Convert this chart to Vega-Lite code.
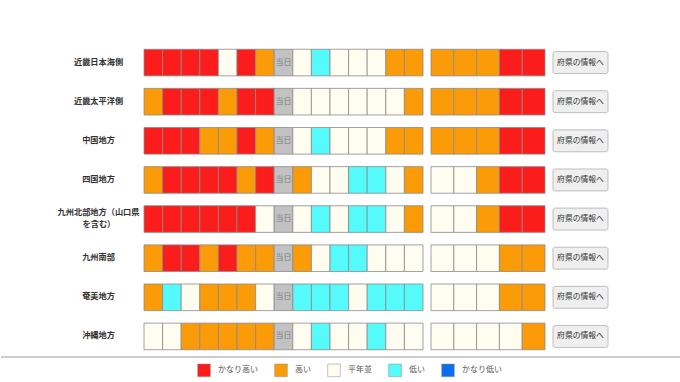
{
  "$schema": "https://vega.github.io/schema/vega-lite/v6.json",
  "padding": {"left": 0, "top": 43, "right": 0, "bottom": 0},
  "background": "white",
  "config": {
    "font": "Noto Sans CJK JP",
    "view": {"stroke": null},
    "concat": {"spacing": 8}
  },
  "datasets": {
    "regions": [
      {"region": "近畿日本海側"},
      {"region": "近畿太平洋側"},
      {"region": "中国地方"},
      {"region": "四国地方"},
      {"region": "九州北部地方（山口県を含む）"},
      {"region": "九州南部"},
      {"region": "奄美地方"},
      {"region": "沖縄地方"}
    ],
    "labels": [
      {"region": "近畿日本海側", "line": "single", "text": "近畿日本海側"},
      {"region": "近畿太平洋側", "line": "single", "text": "近畿太平洋側"},
      {"region": "中国地方", "line": "single", "text": "中国地方"},
      {"region": "四国地方", "line": "single", "text": "四国地方"},
      {"region": "九州北部地方（山口県を含む）", "line": "upper", "text": "九州北部地方（山口県"},
      {"region": "九州北部地方（山口県を含む）", "line": "lower", "text": "を含む）"},
      {"region": "九州南部", "line": "single", "text": "九州南部"},
      {"region": "奄美地方", "line": "single", "text": "奄美地方"},
      {"region": "沖縄地方", "line": "single", "text": "沖縄地方"}
    ],
    "daily": [
      {"region": "近畿日本海側", "day": 1, "level": "かなり高い"},
      {"region": "近畿日本海側", "day": 2, "level": "かなり高い"},
      {"region": "近畿日本海側", "day": 3, "level": "かなり高い"},
      {"region": "近畿日本海側", "day": 4, "level": "かなり高い"},
      {"region": "近畿日本海側", "day": 5, "level": "平年並"},
      {"region": "近畿日本海側", "day": 6, "level": "かなり高い"},
      {"region": "近畿日本海側", "day": 7, "level": "高い"},
      {"region": "近畿日本海側", "day": 8, "level": "当日"},
      {"region": "近畿日本海側", "day": 9, "level": "平年並"},
      {"region": "近畿日本海側", "day": 10, "level": "低い"},
      {"region": "近畿日本海側", "day": 11, "level": "平年並"},
      {"region": "近畿日本海側", "day": 12, "level": "平年並"},
      {"region": "近畿日本海側", "day": 13, "level": "平年並"},
      {"region": "近畿日本海側", "day": 14, "level": "高い"},
      {"region": "近畿日本海側", "day": 15, "level": "高い"},

      {"region": "近畿太平洋側", "day": 1, "level": "高い"},
      {"region": "近畿太平洋側", "day": 2, "level": "かなり高い"},
      {"region": "近畿太平洋側", "day": 3, "level": "かなり高い"},
      {"region": "近畿太平洋側", "day": 4, "level": "かなり高い"},
      {"region": "近畿太平洋側", "day": 5, "level": "高い"},
      {"region": "近畿太平洋側", "day": 6, "level": "かなり高い"},
      {"region": "近畿太平洋側", "day": 7, "level": "かなり高い"},
      {"region": "近畿太平洋側", "day": 8, "level": "当日"},
      {"region": "近畿太平洋側", "day": 9, "level": "平年並"},
      {"region": "近畿太平洋側", "day": 10, "level": "平年並"},
      {"region": "近畿太平洋側", "day": 11, "level": "平年並"},
      {"region": "近畿太平洋側", "day": 12, "level": "平年並"},
      {"region": "近畿太平洋側", "day": 13, "level": "平年並"},
      {"region": "近畿太平洋側", "day": 14, "level": "平年並"},
      {"region": "近畿太平洋側", "day": 15, "level": "高い"},

      {"region": "中国地方", "day": 1, "level": "かなり高い"},
      {"region": "中国地方", "day": 2, "level": "かなり高い"},
      {"region": "中国地方", "day": 3, "level": "かなり高い"},
      {"region": "中国地方", "day": 4, "level": "高い"},
      {"region": "中国地方", "day": 5, "level": "高い"},
      {"region": "中国地方", "day": 6, "level": "かなり高い"},
      {"region": "中国地方", "day": 7, "level": "高い"},
      {"region": "中国地方", "day": 8, "level": "当日"},
      {"region": "中国地方", "day": 9, "level": "平年並"},
      {"region": "中国地方", "day": 10, "level": "低い"},
      {"region": "中国地方", "day": 11, "level": "平年並"},
      {"region": "中国地方", "day": 12, "level": "平年並"},
      {"region": "中国地方", "day": 13, "level": "平年並"},
      {"region": "中国地方", "day": 14, "level": "高い"},
      {"region": "中国地方", "day": 15, "level": "高い"},

      {"region": "四国地方", "day": 1, "level": "高い"},
      {"region": "四国地方", "day": 2, "level": "かなり高い"},
      {"region": "四国地方", "day": 3, "level": "かなり高い"},
      {"region": "四国地方", "day": 4, "level": "かなり高い"},
      {"region": "四国地方", "day": 5, "level": "かなり高い"},
      {"region": "四国地方", "day": 6, "level": "高い"},
      {"region": "四国地方", "day": 7, "level": "かなり高い"},
      {"region": "四国地方", "day": 8, "level": "当日"},
      {"region": "四国地方", "day": 9, "level": "高い"},
      {"region": "四国地方", "day": 10, "level": "平年並"},
      {"region": "四国地方", "day": 11, "level": "平年並"},
      {"region": "四国地方", "day": 12, "level": "低い"},
      {"region": "四国地方", "day": 13, "level": "低い"},
      {"region": "四国地方", "day": 14, "level": "平年並"},
      {"region": "四国地方", "day": 15, "level": "高い"},

      {"region": "九州北部地方（山口県を含む）", "day": 1, "level": "かなり高い"},
      {"region": "九州北部地方（山口県を含む）", "day": 2, "level": "かなり高い"},
      {"region": "九州北部地方（山口県を含む）", "day": 3, "level": "かなり高い"},
      {"region": "九州北部地方（山口県を含む）", "day": 4, "level": "かなり高い"},
      {"region": "九州北部地方（山口県を含む）", "day": 5, "level": "かなり高い"},
      {"region": "九州北部地方（山口県を含む）", "day": 6, "level": "かなり高い"},
      {"region": "九州北部地方（山口県を含む）", "day": 7, "level": "平年並"},
      {"region": "九州北部地方（山口県を含む）", "day": 8, "level": "当日"},
      {"region": "九州北部地方（山口県を含む）", "day": 9, "level": "平年並"},
      {"region": "九州北部地方（山口県を含む）", "day": 10, "level": "低い"},
      {"region": "九州北部地方（山口県を含む）", "day": 11, "level": "平年並"},
      {"region": "九州北部地方（山口県を含む）", "day": 12, "level": "低い"},
      {"region": "九州北部地方（山口県を含む）", "day": 13, "level": "低い"},
      {"region": "九州北部地方（山口県を含む）", "day": 14, "level": "平年並"},
      {"region": "九州北部地方（山口県を含む）", "day": 15, "level": "高い"},

      {"region": "九州南部", "day": 1, "level": "高い"},
      {"region": "九州南部", "day": 2, "level": "かなり高い"},
      {"region": "九州南部", "day": 3, "level": "かなり高い"},
      {"region": "九州南部", "day": 4, "level": "高い"},
      {"region": "九州南部", "day": 5, "level": "かなり高い"},
      {"region": "九州南部", "day": 6, "level": "高い"},
      {"region": "九州南部", "day": 7, "level": "高い"},
      {"region": "九州南部", "day": 8, "level": "当日"},
      {"region": "九州南部", "day": 9, "level": "高い"},
      {"region": "九州南部", "day": 10, "level": "平年並"},
      {"region": "九州南部", "day": 11, "level": "低い"},
      {"region": "九州南部", "day": 12, "level": "低い"},
      {"region": "九州南部", "day": 13, "level": "平年並"},
      {"region": "九州南部", "day": 14, "level": "平年並"},
      {"region": "九州南部", "day": 15, "level": "平年並"},

      {"region": "奄美地方", "day": 1, "level": "高い"},
      {"region": "奄美地方", "day": 2, "level": "低い"},
      {"region": "奄美地方", "day": 3, "level": "平年並"},
      {"region": "奄美地方", "day": 4, "level": "高い"},
      {"region": "奄美地方", "day": 5, "level": "高い"},
      {"region": "奄美地方", "day": 6, "level": "高い"},
      {"region": "奄美地方", "day": 7, "level": "平年並"},
      {"region": "奄美地方", "day": 8, "level": "当日"},
      {"region": "奄美地方", "day": 9, "level": "低い"},
      {"region": "奄美地方", "day": 10, "level": "低い"},
      {"region": "奄美地方", "day": 11, "level": "低い"},
      {"region": "奄美地方", "day": 12, "level": "平年並"},
      {"region": "奄美地方", "day": 13, "level": "低い"},
      {"region": "奄美地方", "day": 14, "level": "低い"},
      {"region": "奄美地方", "day": 15, "level": "低い"},

      {"region": "沖縄地方", "day": 1, "level": "平年並"},
      {"region": "沖縄地方", "day": 2, "level": "平年並"},
      {"region": "沖縄地方", "day": 3, "level": "高い"},
      {"region": "沖縄地方", "day": 4, "level": "高い"},
      {"region": "沖縄地方", "day": 5, "level": "高い"},
      {"region": "沖縄地方", "day": 6, "level": "高い"},
      {"region": "沖縄地方", "day": 7, "level": "高い"},
      {"region": "沖縄地方", "day": 8, "level": "当日"},
      {"region": "沖縄地方", "day": 9, "level": "平年並"},
      {"region": "沖縄地方", "day": 10, "level": "低い"},
      {"region": "沖縄地方", "day": 11, "level": "平年並"},
      {"region": "沖縄地方", "day": 12, "level": "平年並"},
      {"region": "沖縄地方", "day": 13, "level": "低い"},
      {"region": "沖縄地方", "day": 14, "level": "平年並"},
      {"region": "沖縄地方", "day": 15, "level": "平年並"}
    ],
    "outlook": [
      {"region": "近畿日本海側", "period": 1, "level": "高い"},
      {"region": "近畿日本海側", "period": 2, "level": "高い"},
      {"region": "近畿日本海側", "period": 3, "level": "高い"},
      {"region": "近畿日本海側", "period": 4, "level": "かなり高い"},
      {"region": "近畿日本海側", "period": 5, "level": "かなり高い"},
      {"region": "近畿太平洋側", "period": 1, "level": "高い"},
      {"region": "近畿太平洋側", "period": 2, "level": "高い"},
      {"region": "近畿太平洋側", "period": 3, "level": "高い"},
      {"region": "近畿太平洋側", "period": 4, "level": "かなり高い"},
      {"region": "近畿太平洋側", "period": 5, "level": "かなり高い"},
      {"region": "中国地方", "period": 1, "level": "高い"},
      {"region": "中国地方", "period": 2, "level": "高い"},
      {"region": "中国地方", "period": 3, "level": "高い"},
      {"region": "中国地方", "period": 4, "level": "かなり高い"},
      {"region": "中国地方", "period": 5, "level": "かなり高い"},
      {"region": "四国地方", "period": 1, "level": "平年並"},
      {"region": "四国地方", "period": 2, "level": "平年並"},
      {"region": "四国地方", "period": 3, "level": "高い"},
      {"region": "四国地方", "period": 4, "level": "かなり高い"},
      {"region": "四国地方", "period": 5, "level": "かなり高い"},
      {"region": "九州北部地方（山口県を含む）", "period": 1, "level": "平年並"},
      {"region": "九州北部地方（山口県を含む）", "period": 2, "level": "平年並"},
      {"region": "九州北部地方（山口県を含む）", "period": 3, "level": "高い"},
      {"region": "九州北部地方（山口県を含む）", "period": 4, "level": "かなり高い"},
      {"region": "九州北部地方（山口県を含む）", "period": 5, "level": "かなり高い"},
      {"region": "九州南部", "period": 1, "level": "平年並"},
      {"region": "九州南部", "period": 2, "level": "平年並"},
      {"region": "九州南部", "period": 3, "level": "平年並"},
      {"region": "九州南部", "period": 4, "level": "高い"},
      {"region": "九州南部", "period": 5, "level": "高い"},
      {"region": "奄美地方", "period": 1, "level": "平年並"},
      {"region": "奄美地方", "period": 2, "level": "平年並"},
      {"region": "奄美地方", "period": 3, "level": "平年並"},
      {"region": "奄美地方", "period": 4, "level": "高い"},
      {"region": "奄美地方", "period": 5, "level": "高い"},
      {"region": "沖縄地方", "period": 1, "level": "平年並"},
      {"region": "沖縄地方", "period": 2, "level": "平年並"},
      {"region": "沖縄地方", "period": 3, "level": "平年並"},
      {"region": "沖縄地方", "period": 4, "level": "平年並"},
      {"region": "沖縄地方", "period": 5, "level": "高い"}
    ]
  },
  "spacing": 0,
  "resolve": {"scale": {"y": "independent", "x": "independent"}},
  "vconcat": [
    {
      "spacing": 8,
      "bounds": "flush",
      "resolve": {"scale": {"y": "independent", "x": "independent"}},
      "hconcat": [
        {
          "width": 135,
          "height": 313,
          "data": {"name": "labels"},
          "encoding": {
            "y": {
              "field": "region", "type": "nominal", "axis": null,
              "scale": {
                "type": "point", "padding": 0.5,
                "domain": ["近畿日本海側", "近畿太平洋側", "中国地方", "四国地方", "九州北部地方（山口県を含む）", "九州南部", "奄美地方", "沖縄地方"]
              }
            },
            "text": {"field": "text"}
          },
          "layer": [
            {
              "transform": [{"filter": "datum.line === 'single'"}],
              "mark": {"type": "text", "align": "center", "baseline": "middle", "dx": 30, "fontWeight": "bold", "fontSize": 8.2, "color": "#333333"}
            },
            {
              "transform": [{"filter": "datum.line === 'upper'"}],
              "mark": {"type": "text", "align": "center", "baseline": "middle", "dx": 30, "dy": -6, "fontWeight": "bold", "fontSize": 8.2, "color": "#333333"}
            },
            {
              "transform": [{"filter": "datum.line === 'lower'"}],
              "mark": {"type": "text", "align": "left", "baseline": "middle", "dx": 14, "dy": 6, "fontWeight": "bold", "fontSize": 8.2, "color": "#333333"}
            }
          ]
        },
        {
          "width": 279,
          "height": 313,
          "data": {"name": "daily"},
          "encoding": {
            "x": {"field": "day", "type": "ordinal", "scale": {"paddingInner": 0, "paddingOuter": 0}, "axis": null},
            "y": {"field": "region", "type": "nominal", "sort": null, "scale": {"type": "band", "paddingInner": 0.32, "paddingOuter": 0.16}, "axis": null}
          },
          "layer": [
            {
              "mark": {"type": "rect", "stroke": "#8a8a8a", "strokeWidth": 0.8},
              "encoding": {
                "color": {
                  "field": "level", "type": "nominal",
                  "scale": {
                    "domain": ["かなり高い", "高い", "平年並", "低い", "かなり低い", "当日"],
                    "range": ["#fb1c1c", "#fb9b07", "#fffdf0", "#55fafa", "#0a6df0", "#c2c2c2"]
                  },
                  "legend": {
                    "orient": "none", "legendX": 196, "legendY": 320, "direction": "horizontal",
                    "title": null, "padding": 0,
                    "values": ["かなり高い", "高い", "平年並", "低い", "かなり低い"],
                    "symbolType": "square", "symbolSize": 160, "symbolStrokeColor": "#999999", "symbolStrokeWidth": 0.5,
                    "labelFontSize": 8, "labelColor": "#555555", "labelOffset": 7, "columnPadding": 15
                  }
                }
              }
            },
            {
              "transform": [{"filter": "datum.level === '当日'"}],
              "mark": {"type": "text", "fontSize": 8, "color": "#808080"},
              "encoding": {"text": {"field": "level"}}
            }
          ]
        },
        {
          "width": 114,
          "height": 313,
          "data": {"name": "outlook"},
          "mark": {"type": "rect", "stroke": "#8a8a8a", "strokeWidth": 0.8},
          "encoding": {
            "x": {"field": "period", "type": "ordinal", "scale": {"paddingInner": 0, "paddingOuter": 0}, "axis": null},
            "y": {"field": "region", "type": "nominal", "sort": null, "scale": {"type": "band", "paddingInner": 0.32, "paddingOuter": 0.16}, "axis": null},
            "color": {"field": "level", "type": "nominal"}
          }
        },
        {
          "width": 55,
          "height": 313,
          "data": {"name": "regions"},
          "encoding": {
            "y": {"field": "region", "type": "nominal", "sort": null, "scale": {"type": "band", "paddingInner": 0.44, "paddingOuter": 0.22}, "axis": null}
          },
          "layer": [
            {"mark": {"type": "rect", "fill": "#efefef", "stroke": "#b0b0b0", "strokeWidth": 0.8, "cornerRadius": 2}},
            {"mark": {"type": "text", "fontSize": 7.8, "color": "#333333", "text": "府県の情報へ"}}
          ]
        }
      ]
    },
    {
      "width": 680,
      "height": 26,
      "data": {"values": [{"line": 1}]},
      "mark": {"type": "rule", "color": "#9a9a9a", "strokeWidth": 1.2},
      "encoding": {
        "y": {"field": "line", "type": "quantitative", "scale": {"domain": [0, 1]}, "axis": null}
      }
    }
  ]
}
